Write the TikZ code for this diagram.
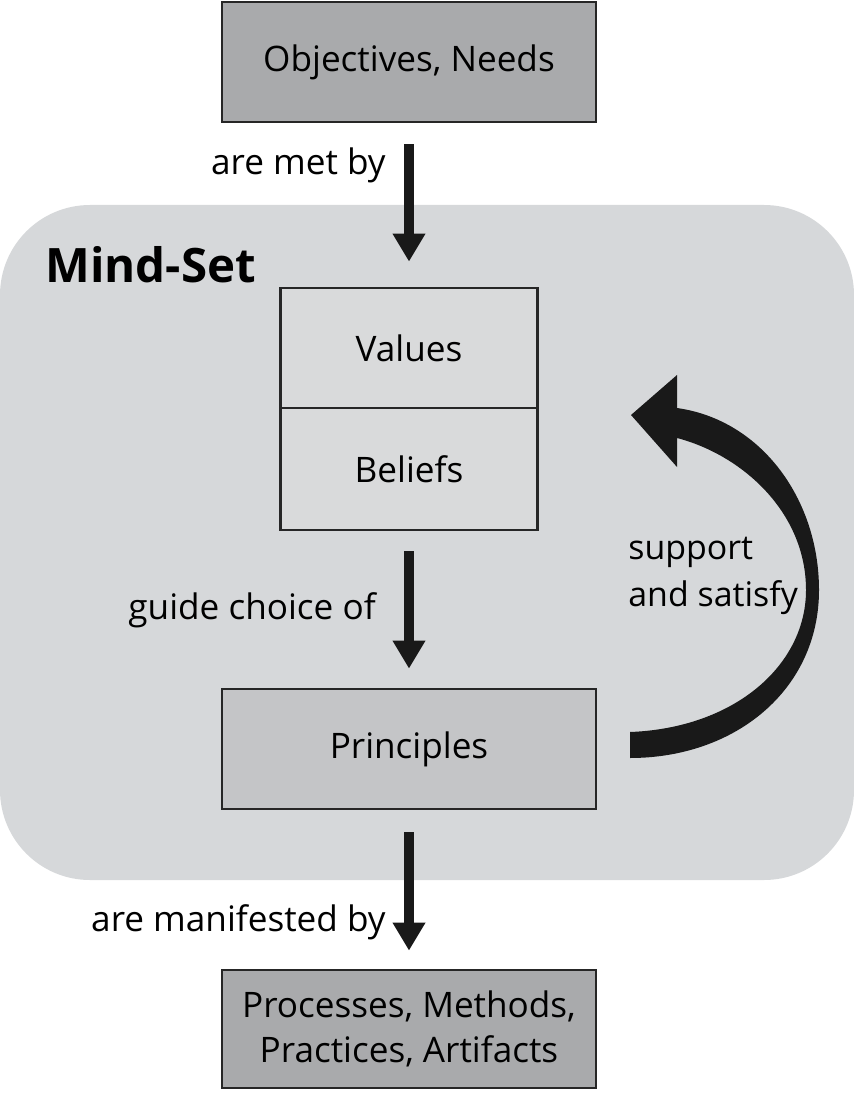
\documentclass[tikz,border=0pt]{standalone}
\usepackage{fontspec}
\setmainfont{Open Sans}
\usetikzlibrary{arrows.meta}
\usetikzlibrary{calc}

\definecolor{boxdark}{HTML}{A9AAAC}
\definecolor{boxmid}{HTML}{C4C5C7}
\definecolor{boxlight}{HTML}{D9DADB}
\definecolor{mindbg}{HTML}{D6D8DA}

\begin{document}
\begin{tikzpicture}[x=0.02cm,y=-0.02cm,>={Triangle[length=0.56cm,width=0.62cm]},
	flow/.style={->,line width=0.2cm,black!90},
	dark box/.style={draw=black!85,line width=1.6pt,fill=boxdark,minimum width=7.48cm,minimum height=2.4cm,font=\fontsize{20}{25.6}\selectfont,align=center,inner sep=0pt},
	mid box/.style={dark box,fill=boxmid},
	light box/.style={dark box,fill=boxlight,minimum width=5.14cm},
	lbl/.style={font=\fontsize{20}{26.7}\selectfont,inner sep=0pt,align=left}]

				\useasboundingbox (0,0) rectangle (854,1094);
				\fill[mindbg,rounded corners=1.8cm] (0,205) rectangle (854,880);
				\node[font=\bfseries\fontsize{27}{32}\selectfont,anchor=west,inner sep=0pt] (mindset) at (45,265) {Mind-Set};

				\node[dark box] (objectives) at (409,62) {Objectives, Needs};
				\node[light box,minimum height=2.4cm] (values) at (409,348) {Values};
				\node[light box,minimum height=2.44cm] (beliefs) at (409,469) {Beliefs};
				\node[mid box] (principles) at (409,749) {Principles};
				\node[dark box,minimum height=2.36cm] (processes) at (409,1029) {Processes, Methods,\\Practices, Artifacts};

				\node[lbl,anchor=east] (metby) at (386,165) {are met by};
				\node[lbl,anchor=east] (guide) at (376,610) {guide choice of};
				\node[lbl,anchor=east] (manifest) at (386,922) {are manifested by};
				\node[lbl,anchor=west,font=\fontsize{19.3}{26.5}\selectfont] (support) at (628,576) {support\\and satisfy};

				\path[flow]
				(objectives) edge[shorten <=0.42cm,shorten >=0.5cm] (values)
				(beliefs) edge[shorten <=0.4cm,shorten >=0.38cm] (principles)
				(principles) edge[shorten <=0.44cm,shorten >=0.36cm] (processes);

				% curved return arrow, principles back up to beliefs
				\coordinate (tail) at (630,745);
				\coordinate (tip) at (631,415);
				\fill[black!90] ($(tail)+(0,-13)$) .. controls (735,728) and (806,665) .. (806,590)
					.. controls (806,512) and (742,455) .. (677,438)
					-- (677,467) -- (tip) -- (677,375) -- (677,408)
					.. controls (762,420) and (819,500) .. (819,590)
					.. controls (819,690) and (735,758) .. ($(tail)+(0,13)$) -- cycle;

\end{tikzpicture}
\end{document}
